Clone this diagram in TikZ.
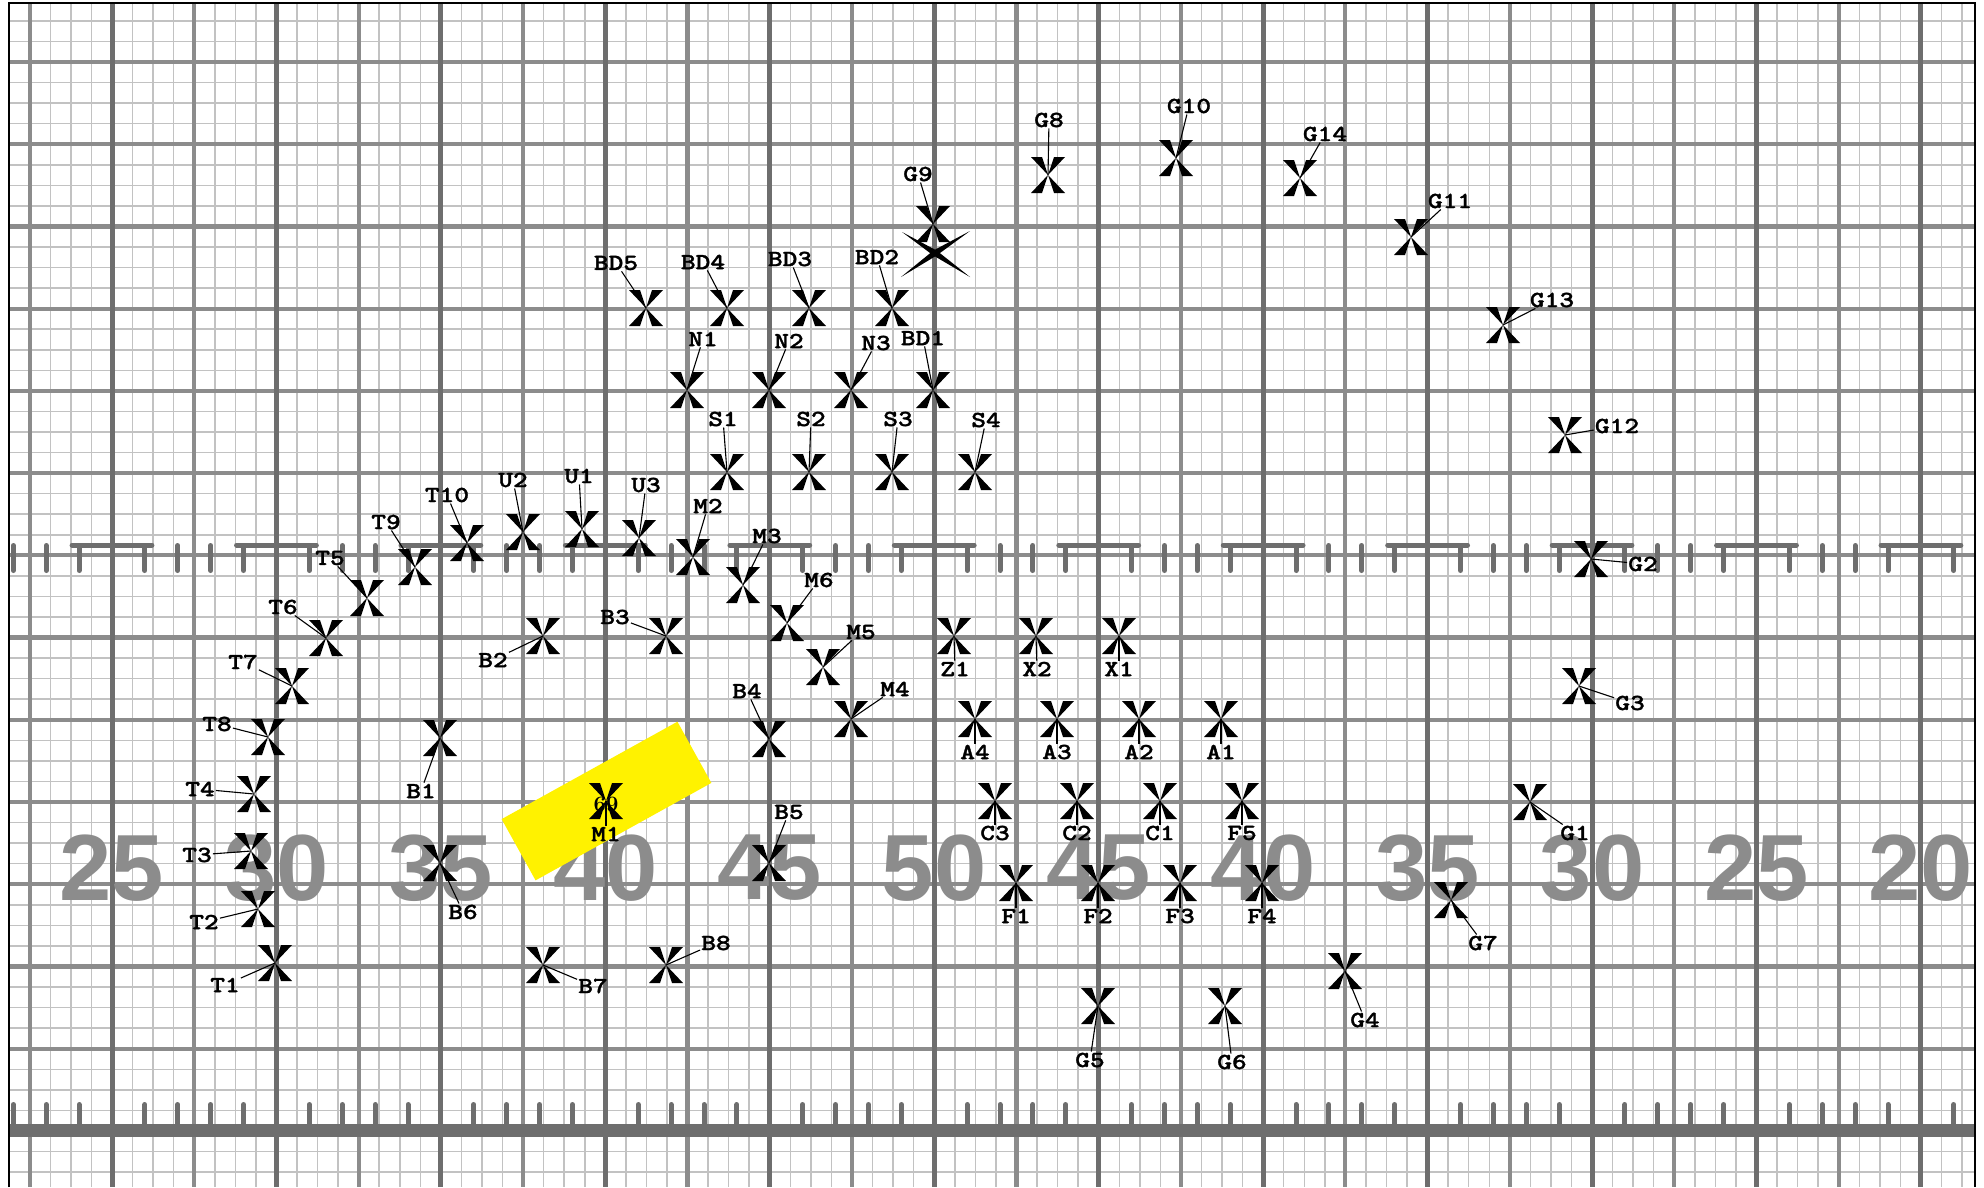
\documentclass[tikz,border=0pt]{standalone}
\usepackage{fontspec}
\newfontfamily\yardfont{Liberation Sans}
\newfontfamily\labfont{lmmonolt10-bold.otf}[FakeBold=1.2]
\definecolor{glight}{HTML}{C2C2C2}
\definecolor{gmed}{HTML}{8C8C8C}
\definecolor{gdark}{HTML}{6E6E6E}
\newcommand{\lbtxt}[1]{\scalebox{1.22}[1]{#1}}
\tikzset{
  xmk/.pic={\fill[black] (0,0)--(-17,-18)--(-6,-18)--cycle (0,0)--(6,-18)--(17,-18)--cycle
     (0,0)--(-17,18)--(-6,18)--cycle (0,0)--(6,18)--(17,18)--cycle;},
  bigx/.pic={\fill[black] (-33,-21)--(1.6,-2.5)--(35,24)--(-1.6,2.5)--cycle
     (35,-22)--(1.6,2.5)--(-34,24)--(-1.6,-2.5)--cycle;},
  lab/.style={font=\labfont\fontsize{23}{23}\selectfont, inner sep=1pt, text=black},
  lead/.style={draw=black, line width=1.1pt},
  yardnum/.style={font=\yardfont\bfseries\fontsize{94}{94}\selectfont, text=gmed, inner sep=0pt},
  lightline/.style={draw=glight, line width=1.5pt},
  medline/.style={draw=gmed, line width=4.2pt},
  darkline/.style={draw=gdark, line width=5pt},
  hashline/.style={draw=gdark, line width=5pt, line cap=round},
}
\def\ptlist{T1/225/985/275/963,T2/204/922/258/909,T3/197/855/251/851,T4/200/789/254/794,T8/217/724/268/737,T7/243/662/292/686,T6/283/607/326/638,T5/330/558/367/598,T9/386/522/415/567,T10/447/495/467/543,U2/513/480/523/532,U1/579/476/582/529,U3/646/485/639/538,M2/708/506/693/557,M3/767/536/743/585,M6/819/580/787/623,M5/861/632/823/667,M4/895/689/851/719,B4/747/691/769/739,B3/615/617/666/636,B2/493/660/543/636,B1/421/791/440/738,B6/463/912/440/863,B7/593/986/543/965,B8/716/943/666/965,B5/789/812/769/863,M1/606/834/606/801,S1/723/419/727/472,S2/811/419/809/472,S3/898/419/892/472,S4/986/420/975/472,N1/703/339/687/390,N2/789/341/769/390,N3/876/343/851/390,BD1/923/338/933/390,BD2/877/257/892/308,BD3/790/259/809/308,BD4/703/262/727/308,BD5/616/263/646/308,G9/918/174/933/224,G8/1049/120/1048/175,G10/1189/106/1176/158,G14/1325/134/1300/178,G11/1450/201/1411/237,G13/1552/300/1503/325,G12/1617/426/1565/435,G2/1643/564/1591/559,G3/1630/703/1579/686,G1/1575/833/1530/802,G7/1483/943/1451/900,G4/1365/1020/1345/971,G5/1090/1060/1098/1006,G6/1232/1062/1225/1006,Z1/955/669/954/636,X2/1037/669/1036/636,X1/1119/669/1119/636,A4/975/752/975/719,A3/1057/752/1057/719,A2/1139/752/1139/719,A1/1221/752/1221/719,C3/995/833/995/801,C2/1077/833/1077/801,C1/1160/833/1160/801,F5/1242/833/1242/801,F1/1016/916/1016/883,F2/1098/916/1098/883,F3/1180/916/1180/883,F4/1262/916/1262/883}
\begin{document}
\begin{tikzpicture}[x=1pt,y=-1pt]
\useasboundingbox (0,0) rectangle (1984,1187);
\fill[white] (0,0) rectangle (1984,1187);
% grid
\foreach \i in {-5,...,90} \draw[lightline] ({112+20.556*\i},3) -- ++(0,1184);
\foreach \j in {1,...,57} \draw[lightline] (9,{0.33+20.556*\j}) -- ++(1966,0);
\foreach \k in {-1,...,10} \draw[medline] ({112+164.45*(\k+0.5)},3) -- ++(0,1184);
\foreach \k in {0,...,13} \draw[medline] (9,{62+82.22*\k}) -- ++(1966,0);
\foreach \k in {0,...,11} \draw[darkline] ({112+164.45*\k},3) -- ++(0,1184);
% hash marks and sideline
\foreach \b in {0,5,...,50}{\foreach \o in {1,2,3,4}{
  \draw[hashline] ({112+32.89*(\b+\o)},545.5) -- ++(0,25);
  \draw[hashline] ({112+32.89*(\b+\o)},1104.5) -- ++(0,22);}}
\foreach \k in {-3,-2,-1,56}{
  \draw[hashline] ({112+32.89*\k},545.5) -- ++(0,25);
  \draw[hashline] ({112+32.89*\k},1104.5) -- ++(0,22);}
\foreach \b in {0,5,...,55} \draw[hashline] ({112+32.89*(\b-1)-7},545) -- ({112+32.89*(\b+1)+7},545);
\draw[draw=gdark, line width=13pt] (9,1130.5) -- (1975,1130.5);
% yard numbers
\foreach \k/\t in {0/25,1/30,2/35,3/40,4/45,5/50,6/45,7/40,8/35,9/30,10/25,11/20}
  \node[yardnum] (yd\k) at ({112+164.45*\k},868) {\t};
% highlight
\node[fill=yellow, minimum width=201pt, minimum height=70pt, rotate=29, inner sep=0pt] (hl) at (606.5,801) {};
% labels and markers
\foreach \n/\lx/\ly/\mx/\my in \ptlist {
  \coordinate (\n) at (\mx,\my);
  \node[lab] (l\n) at (\lx,\ly) {\lbtxt{\n}};
}
\foreach \n/\lx/\ly/\mx/\my in \ptlist \draw[lead] (l\n) -- (\n);
\foreach \n/\lx/\ly/\mx/\my in \ptlist \pic at (\n) {xmk};
\coordinate (G9x) at (935,253);
\pic at (G9x) {bigx};
\node[font=\bfseries\fontsize{22}{22}\selectfont, inner sep=0pt] (n69) at (606,804) {69};
% border
\draw[black, line width=2.5pt] (9,1187) -- (9,3) -- (1975,3) -- (1975,1187);
\end{tikzpicture}
\end{document}
